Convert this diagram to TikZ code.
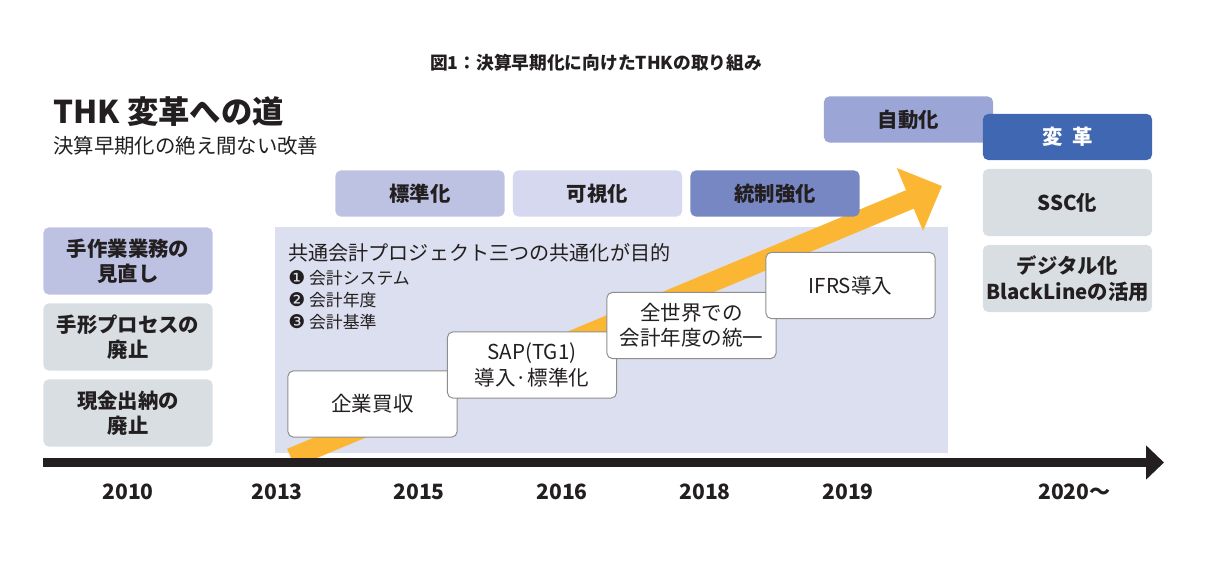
\documentclass[tikz,border=0pt]{standalone}
\usepackage{fontspec}
\setmainfont{Noto Sans CJK JP}
\newfontfamily\dingfont{DejaVu Sans}
\usetikzlibrary{arrows.meta}
\definecolor{ink}{HTML}{231F20}
\definecolor{lav}{HTML}{BEC2E2}
\definecolor{lavlight}{HTML}{D5D8EE}
\definecolor{lavdark}{HTML}{7687C3}
\definecolor{lavmid}{HTML}{9BA6D6}
\definecolor{royal}{HTML}{4068B2}
\definecolor{mist}{HTML}{D8DEE2}
\definecolor{panel}{HTML}{DCDFEF}
\definecolor{amber}{HTML}{FBB733}
\definecolor{rim}{HTML}{8E8E8E}
\tikzset{
  tag/.style={rounded corners=0.13cm,inner sep=0pt,minimum width=4.225cm,minimum height=1.15cm,
    font=\fontsize{14.5}{18}\selectfont\bfseries,text=ink,align=center},
  card/.style={tag,minimum height=1.675cm},
  milestone/.style={card,fill=white,draw=rim,line width=0.7pt,minimum height=1.65cm,
    font=\fontsize{14.6}{18}\selectfont},
  year/.style={font=\fontsize{15}{18}\selectfont\bfseries,text=ink,inner sep=0pt},
  plain/.style={anchor=west,inner sep=0pt,text=ink}
}

\begin{document}
\begin{tikzpicture}[x=0.025cm,y=-0.025cm]
\useasboundingbox (0,0) rectangle (1210,583);
\node[font=\fontsize{12.6}{15}\selectfont\bfseries,text=ink] (fig) at (596,63) {図1：決算早期化に向けたTHKの取り組み};
\node[plain,font=\fontsize{22.3}{26}\selectfont\bfseries] (head) at (53,112) {THK 変革への道};
\node[plain,font=\fontsize{14.5}{18}\selectfont] (sub) at (53,146) {決算早期化の絶え間ない改善};

\fill[panel] (275,227) rectangle (948,453);
\node[plain,font=\fontsize{14.3}{17}\selectfont] (goal) at (288,253) {共通会計プロジェクト三つの共通化が目的};
\foreach \d/\yy/\lab [count=\k] in {❶/278/会計システム,❷/300/会計年度,❸/322/会計基準}{
  \node[plain,font=\fontsize{12}{14}\selectfont] (item\k) at (288,\yy) {{\dingfont\fontsize{13.5}{14}\selectfont\d}\ \lab};}

\coordinate (rise0) at (291,458);
\coordinate (rise1) at (942,186);
\draw[amber,line width=0.5cm,-{Triangle[length=0.87cm,width=1.65cm]}] (rise0) -- (rise1);

\node[milestone] (ma) at (372.5,404) {企業買収};
\node[milestone] (sap) at (532,365) {SAP(TG1)\\導入·標準化};
\node[milestone] (fy) at (691.5,325.5) {全世界での\\会計年度の統一};
\node[milestone] (ifrs) at (850.5,285.5) {IFRS導入};

\node[tag,fill=lav] (std) at (420,193.5) {標準化};
\node[tag,fill=lavlight] (vis) at (597.5,193.5) {可視化};
\node[tag,fill=lavdark] (ctrl) at (775,193.5) {統制強化};
\node[tag,fill=lavmid] (auto) at (908.5,119.5) {自動化};
\node[tag,fill=royal,text=white] (reform) at (1067.5,137) {変\hspace{0.5em}革};
\node[card,fill=mist] (ssc) at (1067.5,202.5) {SSC化};
\node[card,fill=mist] (digi) at (1067.5,278.5) {デジタル化\\BlackLineの活用};
\node[card,fill=lav] (manual) at (128,261) {手作業業務の\\見直し};
\node[card,fill=mist] (bill) at (128,337) {手形プロセスの\\廃止};
\node[card,fill=mist] (cash) at (128,413) {現金出納の\\廃止};

\coordinate (t0) at (43,462.5);
\coordinate (t1) at (1164,462.5);
\draw[ink,line width=0.225cm,-{Triangle[length=0.45cm,width=0.83cm]}] (t0) -- (t1);
\foreach \yr/\xx [count=\k] in {2010/128,2013/277,2015/419,2016/562,2018/705,2019/848}{
  \node[year] (yr\k) at (\xx,492) {\yr};}
\node[year,anchor=west] (yr7) at (1038,492) {2020〜};
\end{tikzpicture}
\end{document}
